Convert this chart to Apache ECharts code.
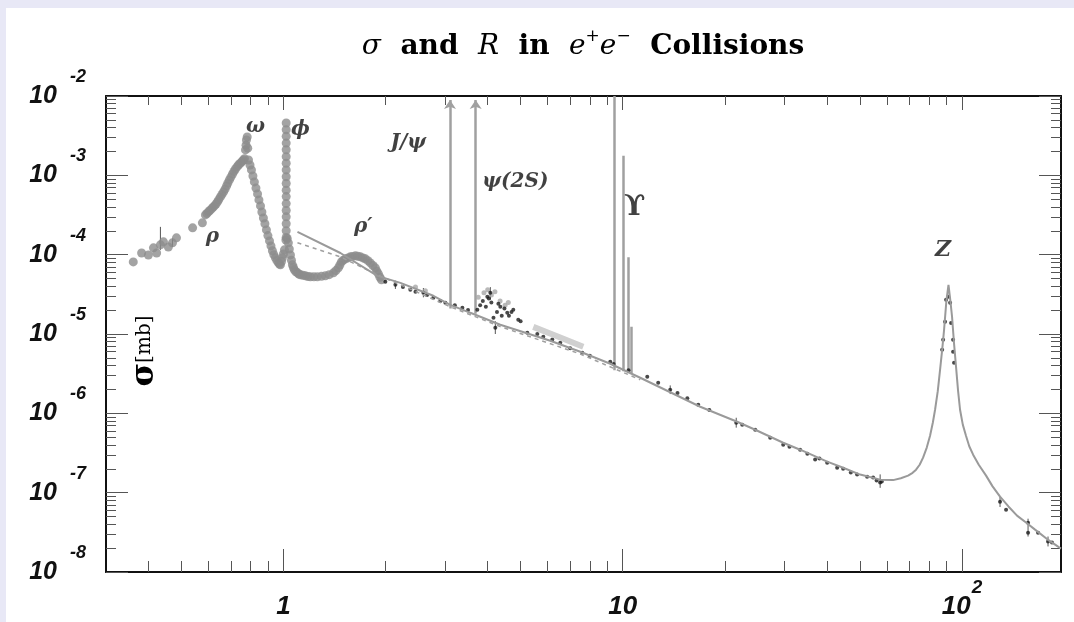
<!DOCTYPE html>
<html>
<head>
<meta charset="utf-8">
<title>σ and R in e+e− Collisions</title>
<script src="https://cdn.jsdelivr.net/npm/echarts@6/dist/echarts.min.js"></script>
<style>
  html, body { margin: 0; padding: 0; background: #e8e8f6; overflow: hidden; }
  #chart { position: absolute; left: 6px; top: 8px; width: 1068px; height: 614px; background: #fff; }
</style>
</head>
<body>
<div id="chart"></div>
<script>
// axis range (sqrt(s) in GeV, sigma in mb)
const xMin = 0.3
const xMax = 195.7
const yMin = 1e-8
const yMax = 1e-2

// tick positions
const xMajorTicks = [1, 10, 100]
const xMinorTicks = [0.4, 0.5, 0.6, 0.7, 0.8, 0.9, 2, 3, 4, 5, 6, 7, 8, 9, 20, 30, 40, 50, 60, 70, 80, 90]
const yMajorTicks = [1e-8, 1e-7, 1e-6, 1e-5, 1e-4, 1e-3, 1e-2]
const yMinorTicks = []
yMajorTicks.slice(0, -1).forEach(d => { for (let k = 2; k <= 9; k++) yMinorTicks.push(d * k) })

// low energy data (rho, omega, phi, rho') - grey points
const rhoTail = [
  [0.361, 8.1e-5], [0.382, 1.05e-4], [0.400, 9.9e-5], [0.414, 1.22e-4], [0.423, 1.05e-4],
  [0.434, 1.33e-4], [0.443, 1.45e-4], [0.458, 1.25e-4], [0.471, 1.41e-4], [0.484, 1.63e-4],
  [0.540, 2.18e-4], [0.577, 2.52e-4]
]
const rhoOmega = [
  [0.589, 3.17e-4], [0.595, 3.3e-4], [0.601, 3.46e-4], [0.607, 3.6e-4], [0.614, 3.78e-4],
  [0.620, 3.95e-4], [0.626, 4.12e-4], [0.633, 4.35e-4], [0.639, 4.62e-4], [0.645, 4.95e-4],
  [0.652, 5.35e-4], [0.659, 5.75e-4], [0.666, 6.18e-4], [0.673, 6.7e-4], [0.680, 7.35e-4],
  [0.686, 8.0e-4], [0.693, 8.75e-4], [0.700, 9.5e-4], [0.708, 1.04e-3], [0.715, 1.12e-3],
  [0.722, 1.20e-3], [0.730, 1.28e-3], [0.737, 1.35e-3], [0.745, 1.41e-3], [0.752, 1.47e-3],
  [0.758, 1.52e-3], [0.763, 1.56e-3], [0.768, 1.62e-3], [0.773, 2.09e-3], [0.776, 2.4e-3],
  [0.778, 2.79e-3], [0.782, 3.05e-3], [0.785, 2.2e-3], [0.789, 1.56e-3], [0.797, 1.35e-3],
  [0.805, 1.17e-3], [0.813, 9.8e-4], [0.821, 8.26e-4], [0.830, 6.9e-4], [0.839, 5.83e-4],
  [0.847, 4.9e-4], [0.856, 4.12e-4], [0.864, 3.45e-4], [0.873, 2.90e-4], [0.882, 2.45e-4],
  [0.891, 2.05e-4], [0.900, 1.74e-4], [0.910, 1.49e-4], [0.919, 1.29e-4], [0.928, 1.12e-4],
  [0.937, 1.0e-4], [0.947, 9.12e-5], [0.957, 8.4e-5], [0.967, 7.88e-5], [0.974, 7.6e-5],
  [0.980, 7.44e-5], [0.987, 8.2e-5], [0.993, 9.12e-5], [1.000, 1.02e-4], [1.007, 1.15e-4]
]
const phiPeak = [
  [1.017, 1.53e-4], [1.019, 1.65e-4], [1.019, 2.0e-4], [1.019, 2.45e-4], [1.019, 3.0e-4],
  [1.019, 3.6e-4], [1.019, 4.4e-4], [1.019, 5.4e-4], [1.019, 6.5e-4], [1.019, 7.9e-4],
  [1.019, 9.6e-4], [1.019, 1.17e-3], [1.019, 1.42e-3], [1.019, 1.72e-3], [1.019, 2.1e-3],
  [1.019, 2.55e-3], [1.019, 3.1e-3], [1.019, 3.75e-3], [1.019, 4.57e-3]
]
const rhoPrime = [
  [1.026, 1.6e-4], [1.034, 1.41e-4], [1.041, 1.18e-4], [1.049, 9.93e-5], [1.056, 8.5e-5],
  [1.063, 7.44e-5], [1.070, 6.9e-5], [1.077, 6.44e-5], [1.088, 6.1e-5], [1.100, 5.90e-5],
  [1.111, 5.7e-5], [1.122, 5.57e-5], [1.141, 5.5e-5], [1.161, 5.41e-5], [1.181, 5.3e-5],
  [1.201, 5.25e-5], [1.230, 5.25e-5], [1.259, 5.25e-5], [1.295, 5.33e-5], [1.329, 5.41e-5],
  [1.365, 5.6e-5], [1.404, 5.90e-5], [1.428, 6.3e-5], [1.452, 6.82e-5], [1.467, 7.4e-5],
  [1.482, 8.11e-5], [1.50, 8.5e-5], [1.523, 8.86e-5], [1.550, 9.1e-5], [1.575, 9.38e-5],
  [1.60, 9.5e-5], [1.630, 9.66e-5], [1.657, 9.55e-5], [1.686, 9.38e-5], [1.715, 9.1e-5],
  [1.744, 8.86e-5], [1.774, 8.4e-5], [1.804, 7.88e-5], [1.835, 7.3e-5], [1.866, 6.82e-5],
  [1.885, 6.2e-5], [1.905, 5.73e-5], [1.925, 5.2e-5], [1.945, 4.82e-5]
]
// charm threshold region, grey points above the continuum
const charmRegion = [
  [2.45, 3.9e-5], [2.62, 3.5e-5], [3.75, 2.9e-5], [3.90, 3.3e-5], [4.00, 3.6e-5],
  [4.10, 3.1e-5], [4.20, 3.4e-5], [4.35, 2.6e-5], [4.50, 2.3e-5], [4.60, 2.5e-5]
]

// continuum measurements - black points
const continuum = [
  [1.997, 4.54e-5], [2.138, 4.17e-5], [2.25, 3.9e-5], [2.366, 3.61e-5], [2.45, 3.4e-5],
  [2.585, 3.30e-5], [2.65, 3.1e-5], [2.766, 2.86e-5], [2.9, 2.6e-5], [3.001, 2.47e-5],
  [3.2, 2.3e-5], [3.368, 2.14e-5], [3.5, 2.0e-5], [3.728, 2.02e-5], [3.80, 2.3e-5],
  [3.87, 2.6e-5], [3.95, 2.2e-5], [3.990, 2.94e-5], [4.03, 2.8e-5], [4.072, 3.30e-5],
  [4.10, 2.5e-5], [4.16, 1.6e-5], [4.212, 1.20e-5], [4.26, 1.9e-5], [4.30, 2.4e-5],
  [4.357, 2.20e-5], [4.40, 1.7e-5], [4.48, 2.1e-5], [4.568, 1.85e-5], [4.62, 1.7e-5],
  [4.70, 1.9e-5], [4.758, 2.02e-5], [4.922, 1.51e-5], [5.0, 1.45e-5], [5.233, 1.04e-5],
  [5.6, 1.0e-5], [5.833, 9.22e-6], [6.2, 8.5e-6], [6.546, 7.75e-6], [7.0, 6.6e-6],
  [7.598, 5.80e-6], [8.0, 5.3e-6], [9.189, 4.47e-6], [9.4, 4.2e-6], [10.4, 3.5e-6],
  [11.81, 2.89e-6], [12.72, 2.43e-6], [13.80, 1.98e-6], [14.5, 1.8e-6], [15.5, 1.55e-6],
  [16.69, 1.28e-6], [18.0, 1.1e-6], [21.60, 7.62e-7], [22.5, 7.2e-7], [24.57, 6.21e-7],
  [27.20, 4.93e-7], [29.71, 4.03e-7], [31.0, 3.8e-7], [33.33, 3.48e-7], [35.0, 3.1e-7],
  [36.90, 2.61e-7], [38.0, 2.7e-7], [40.04, 2.39e-7], [42.84, 2.06e-7], [44.62, 2.00e-7],
  [47.0, 1.8e-7], [49.06, 1.69e-7], [52.51, 1.59e-7], [54.70, 1.55e-7], [56.0, 1.42e-7],
  [57.36, 1.34e-7], [58.0, 1.38e-7], [89.1, 1.43e-5], [89.73, 2.70e-5], [91.0, 2.94e-5],
  [92.19, 2.47e-5], [92.82, 1.38e-5], [87.95, 8.45e-6], [94.09, 8.45e-6], [87.36, 6.32e-6],
  [94.1, 5.97e-6], [94.71, 4.34e-6], [129.4, 7.71e-8], [134.8, 6.11e-8], [156.5, 4.19e-8],
  [156.5, 3.13e-8], [167.5, 3.13e-8], [179.2, 2.42e-8], [184.1, 2.35e-8]
]
// error bars: energy, low, high
const errorBars = [
  [0.434, 1.15e-4, 2.24e-4], [0.471, 1.25e-4, 1.6e-4], [2.138, 3.7e-5, 4.7e-5],
  [2.585, 2.9e-5, 3.8e-5], [4.072, 2.7e-5, 3.9e-5], [4.212, 1.0e-5, 1.45e-5],
  [13.80, 1.75e-6, 2.25e-6], [21.60, 6.6e-7, 8.8e-7], [57.36, 1.15e-7, 1.7e-7],
  [129.4, 6.6e-8, 9.0e-8], [156.5, 2.8e-8, 4.7e-8], [179.2, 2.1e-8, 2.8e-8]
]

// QCD prediction (solid) and naive parton model (dashed)
const theoryCurve = [
  [1.10, 1.94e-4], [1.472, 1.05e-4], [1.892, 5.41e-5], [2.212, 4.41e-5], [2.766, 3.03e-5],
  [3.104, 2.33e-5], [3.555, 1.85e-5], [4.357, 1.31e-5], [6.115, 8.21e-6], [7.496, 5.97e-6],
  [9.189, 4.22e-6], [11.26, 2.81e-6], [16.92, 1.21e-6], [21.74, 7.83e-7], [24.57, 6.21e-7],
  [29.71, 4.26e-7], [33.33, 3.48e-7], [40.04, 2.46e-7], [44.62, 2.06e-7], [50.07, 1.69e-7],
  [57.36, 1.46e-7], [62.65, 1.44e-7], [66.0, 1.52e-7], [69.32, 1.64e-7], [71.5, 1.78e-7],
  [73.19, 1.95e-7], [75.0, 2.25e-7], [76.76, 2.76e-7], [78.7, 3.7e-7], [80.48, 5.22e-7],
  [82.0, 7.6e-7], [83.26, 1.11e-6], [84.8, 1.9e-6], [86.13, 3.54e-6], [87.4, 6.4e-6],
  [88.51, 1.13e-5], [89.9, 2.6e-5], [91.2, 4.17e-5], [92.4, 2.6e-5], [93.44, 1.65e-5],
  [94.7, 7.6e-6], [96.0, 3.86e-6], [97.3, 1.95e-6], [98.65, 1.11e-6], [100.5, 7.2e-7],
  [102.7, 5.22e-7], [105.0, 3.85e-7], [107.8, 3.01e-7], [112.0, 2.25e-7], [117.7, 1.64e-7],
  [123.0, 1.2e-7], [129.4, 8.91e-8], [137.0, 6.7e-8], [145.2, 5.13e-8], [155.0, 4.15e-8],
  [164.1, 3.42e-8], [178.0, 2.6e-8], [195.7, 1.97e-8]
]
const partonCurve = [
  [1.10, 1.41e-4], [1.472, 9.38e-5], [1.892, 5.57e-5], [2.212, 4.17e-5], [3.104, 2.2e-5],
  [4.357, 1.24e-5], [7.496, 5.6e-6], [11.26, 2.65e-6]
]
const lightBand = [[5.45, 1.23e-5], [6.46, 9.22e-6], [7.65, 6.90e-6]]

// narrow resonances: mass, sigma at base, sigma at top
const psiNames = ['J/ψ', 'ψ(2S)']
const psiMass = [3.097, 3.686]
const psiBase = [2.1e-5, 1.8e-5]
const psiTop = [8.9e-3, 8.9e-3]
const upsMass = [9.460, 10.023, 10.355, 10.580]
const upsBase = [3.5e-6, 3.4e-6, 3.3e-6, 3.2e-6]
const upsTop = [1e-2, 1.76e-3, 9.3e-5, 1.23e-5]

// resonance labels
const labelNames = ['ρ', 'ω', 'ϕ', 'ρ′', 'J/ψ', 'ψ(2S)', 'ϒ', 'Z']
const labelE = [0.618, 0.827, 1.122, 1.72, 2.334, 4.824, 10.85, 87.9]
const labelSigma = [1.67e-4, 4.07e-3, 3.73e-3, 2.24e-4, 2.56e-3, 8.26e-4, 3.88e-4, 1.15e-4]

const numFont = 'Liberation Sans'
const numStyle = { fontFamily: numFont, fontWeight: 'bold', fontStyle: 'italic', color: '#111' }
const yRich = {
  b: Object.assign({ fontSize: 25 }, numStyle),
  e: Object.assign({ fontSize: 18, padding: [0, 0, 38, 13] }, numStyle)
}
const xRich = {
  b: Object.assign({ fontSize: 26 }, numStyle),
  e: Object.assign({ fontSize: 19, padding: [0, 0, 38, 1] }, numStyle)
}
const expLabel = (v) => {
  const p = Math.round(Math.log10(v))
  if (p === 0) return '{b|1}'
  if (p === 1) return '{b|10}'
  return '{b|10}{e|' + p + '}'
}

function makeX (position, ticks, len, withLine, withLabel) {
  return {
    type: 'log', position, min: xMin, max: xMax,
    axisLine: { show: withLine, onZero: false, lineStyle: { color: '#111', width: 2 } },
    axisTick: { show: true, inside: true, length: len, customValues: ticks, lineStyle: { color: '#555', width: 1 } },
    axisLabel: withLabel
      ? { show: true, customValues: ticks, formatter: expLabel, rich: xRich, margin: 7, lineHeight: 56 }
      : { show: false },
    splitLine: { show: false },
    minorTick: { show: false }
  }
}
function makeY (position, ticks, len, withLine, withLabel) {
  return {
    type: 'log', position, min: yMin, max: yMax,
    axisLine: { show: withLine, onZero: false, lineStyle: { color: '#111', width: 2 } },
    axisTick: { show: true, inside: true, length: len, customValues: ticks, lineStyle: { color: '#555', width: 1 } },
    axisLabel: withLabel
      ? { show: true, customValues: ticks, formatter: expLabel, rich: yRich, margin: 20, lineHeight: 56 }
      : { show: false },
    splitLine: { show: false },
    minorTick: { show: false }
  }
}

const chart = echarts.init(document.getElementById('chart'))
const greyDots = rhoTail.concat(rhoOmega, phiPeak, rhoPrime)

const option = {
  animation: false,
  backgroundColor: '#fff',
  grid: { left: 100, right: 13, top: 88, bottom: 50, outerBoundsMode: 'none' },
  graphic: [
    {
      type: 'text', x: 577, y: 39, silent: true,
      style: {
        text: '{i|σ}{b|  and  }{i|R}{b|  in  }{i|e}{s|+}{i|e}{s|−}{b|  Collisions}',
        align: 'center', verticalAlign: 'middle',
        rich: {
          i: { fontFamily: 'DejaVu Serif', fontStyle: 'italic', fontSize: 28, color: '#111' },
          b: { fontFamily: 'DejaVu Serif', fontWeight: 'bold', fontSize: 28, color: '#111' },
          s: { fontFamily: 'DejaVu Serif', fontSize: 17, color: '#111', padding: [0, 0, 20, 0] }
        }
      }
    },
    {
      type: 'text', x: 139, y: 343, rotation: Math.PI / 2, silent: true,
      style: {
        text: '{s|σ}{u|[mb]}',
        align: 'center', verticalAlign: 'middle',
        rich: {
          s: { fontFamily: 'DejaVu Serif', fontWeight: 'bold', fontSize: 32, color: '#111' },
          u: { fontFamily: 'DejaVu Serif', fontSize: 20, color: '#111' }
        }
      }
    }
  ],
  xAxis: [
    makeX('bottom', xMajorTicks, 23, true, true),
    makeX('bottom', xMinorTicks, 11, false, false),
    makeX('top', xMajorTicks, 14, true, false),
    makeX('top', xMinorTicks, 9, false, false)
  ],
  yAxis: [
    makeY('left', yMajorTicks, 22, true, true),
    makeY('left', yMinorTicks, 10, false, false),
    makeY('right', yMajorTicks, 22, true, false),
    makeY('right', yMinorTicks, 10, false, false)
  ],
  series: [
    {
      type: 'line', data: lightBand, showSymbol: false, silent: true,
      lineStyle: { color: '#d0d0d0', width: 6 }
    },
    {
      type: 'line', data: partonCurve, showSymbol: false, silent: true,
      lineStyle: { color: '#a0a0a0', width: 1.5, type: [4, 4] }
    },
    {
      type: 'line', data: theoryCurve, showSymbol: false, silent: true,
      lineStyle: { color: '#9a9a9a', width: 2 }
    },
    {
      type: 'lines', coordinateSystem: 'cartesian2d', silent: true,
      symbol: ['none', 'arrow'], symbolSize: 9,
      lineStyle: { color: '#a0a0a0', width: 2.5, opacity: 1 },
      data: psiMass.map((m, i) => ({ name: psiNames[i], coords: [[m, psiBase[i]], [m, psiTop[i]]] }))
    },
    {
      type: 'lines', coordinateSystem: 'cartesian2d', silent: true,
      lineStyle: { color: '#a0a0a0', width: 2.5, opacity: 1 },
      data: upsMass.map((m, i) => ({ coords: [[m, upsBase[i]], [m, upsTop[i]]] }))
    },
    {
      type: 'custom', silent: true, data: errorBars,
      renderItem: (params, api) => {
        const lo = api.coord([api.value(0), api.value(1)])
        const hi = api.coord([api.value(0), api.value(2)])
        return {
          type: 'line',
          shape: { x1: lo[0], y1: lo[1], x2: hi[0], y2: hi[1] },
          style: { stroke: '#555', lineWidth: 1 }
        }
      },
      encode: { x: 0, y: [1, 2] }
    },
    {
      type: 'scatter', data: charmRegion, symbolSize: 5, silent: true,
      itemStyle: { color: '#a8a8a8' }
    },
    {
      type: 'scatter', data: greyDots, symbolSize: 9, silent: true,
      itemStyle: { color: '#8c8c8c' }
    },
    {
      type: 'scatter', data: continuum, symbolSize: 4, silent: true,
      itemStyle: { color: '#1a1a1a' }
    },
    {
      type: 'scatter', symbolSize: 1, silent: true,
      itemStyle: { color: 'rgba(0,0,0,0)' },
      label: {
        show: true, position: 'inside', formatter: '{b}',
        fontFamily: 'DejaVu Serif', fontWeight: 'bold', fontStyle: 'italic', fontSize: 20, color: '#111'
      },
      data: labelNames.map((n, i) => ({
        name: n, value: [labelE[i], labelSigma[i]],
        label: n === 'ϒ' ? { fontStyle: 'normal', fontSize: 28 } : (n === 'Z' ? { fontSize: 22 } : {})
      }))
    }
  ]
}
chart.setOption(option)
</script>
</body>
</html>
